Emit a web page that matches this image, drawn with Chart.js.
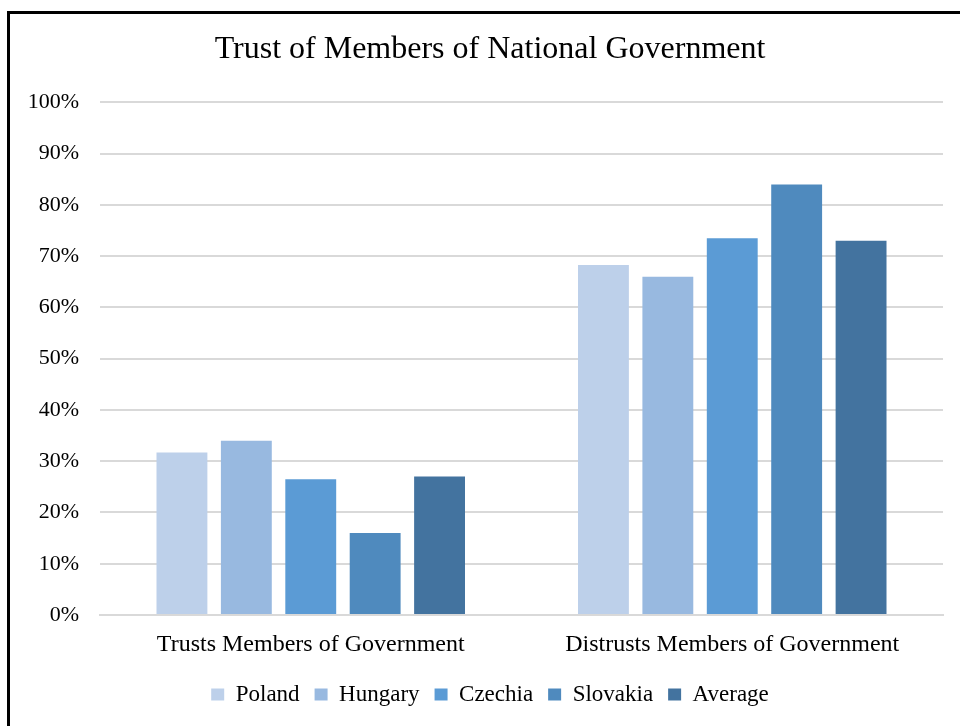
<!DOCTYPE html>
<html>
<head>
<meta charset="utf-8">
<script src="https://cdn.jsdelivr.net/npm/chart.js@4.4.0/dist/chart.umd.min.js"></script>
<style>
  html, body { margin: 0; padding: 0; background: #fff; overflow: hidden; }
  #frame {
    position: absolute; left: 7px; top: 11px; width: 1000px; height: 800px;
    border-top: 3px solid #000; border-left: 3px solid #000;
  }
  #wrap { position: absolute; left: 0; top: 0; width: 980px; height: 726px; }
</style>
</head>
<body>
<div id="frame"></div>
<div id="wrap"><canvas id="trustChart" width="980" height="726"></canvas></div>
<script>
const categories = ['Trusts Members of Government', 'Distrusts Members of Government'];
const countries = ['Poland', 'Hungary', 'Czechia', 'Slovakia', 'Average'];
// share of respondents, per country: [trusts, distrusts]
const poland = [31.7, 68.3];
const hungary = [34.0, 66.0];
const czechia = [26.5, 73.5];
const slovakia = [16.0, 84.0];
const average = [27.0, 73.0];
const yTicks = [0, 10, 20, 30, 40, 50, 60, 70, 80, 90, 100];

const colors = ['#BDD0EA', '#98B9E0', '#5B9BD5', '#4F8ABE', '#43739F'];
const series = [poland, hungary, czechia, slovakia, average];
const serif = '"Liberation Serif", "DejaVu Serif", serif';

const ctx = document.getElementById('trustChart').getContext('2d');
new Chart(ctx, {
    type: 'bar',
    data: {
        labels: categories,
        datasets: series.map((vals, i) => ({
            label: countries[i],
            data: vals,
            backgroundColor: colors[i],
            borderWidth: 0,
            categoryPercentage: 0.764,
            barPercentage: 0.79
        }))
    },
    options: {
        responsive: false,
        animation: false,
        layout: { padding: { left: 0, right: 0, top: 0, bottom: 10 } },
        plugins: {
            title: {
                display: true,
                text: 'Trust of Members of National Government',
                color: '#000',
                font: { family: serif, size: 32, weight: 'normal' },
                padding: { top: 30, bottom: 34 }
            },
            legend: {
                position: 'bottom',
                labels: {
                    color: '#000',
                    font: { family: serif, size: 23 },
                    boxWidth: 13,
                    boxHeight: 12,
                    padding: 15
                }
            },
            tooltip: { enabled: false }
        },
        scales: {
            x: {
                afterFit: axis => { axis.height = 53; },
                grid: { display: false, drawTicks: false },
                border: { color: '#D9D9D9', width: 2 },
                ticks: { color: '#000', font: { family: serif, size: 24 }, padding: 15 }
            },
            y: {
                min: 0,
                max: 100,
                afterBuildTicks: axis => { axis.ticks = yTicks.map(v => ({ value: v })); },
                afterFit: axis => { axis.width = 100; },
                grid: { color: '#D9D9D9', lineWidth: 2, drawTicks: false },
                border: { display: false },
                ticks: {
                    color: '#000',
                    font: { family: serif, size: 22 },
                    padding: 21,
                    callback: v => v + '%'
                }
            },
            // empty margin on the right of the plot
            yRight: {
                position: 'right',
                afterFit: axis => { axis.width = 37; },
                grid: { display: false, drawTicks: false },
                border: { display: false },
                ticks: { display: false }
            }
        }
    }
});
</script>
</body>
</html>
